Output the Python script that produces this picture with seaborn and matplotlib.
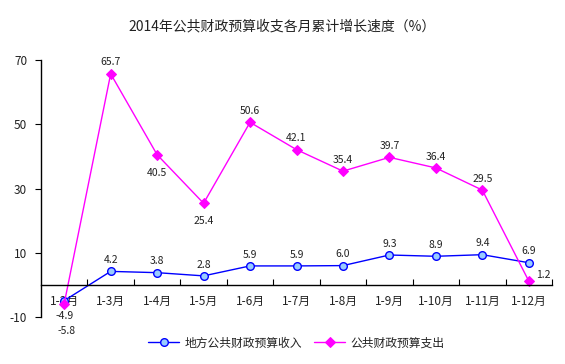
import pandas as pd
import matplotlib.pyplot as plt
import matplotlib.ticker as mtick
import seaborn as sns

months = ['1-2月', '1-3月', '1-4月', '1-5月', '1-6月', '1-7月', '1-8月', '1-9月', '1-10月', '1-11月', '1-12月']
shouru = [-4.9, 4.2, 3.8, 2.8, 5.9, 5.9, 6.0, 9.3, 8.9, 9.4, 6.9]
zhichu = [-5.8, 65.7, 40.5, 25.4, 50.6, 42.1, 35.4, 39.7, 36.4, 29.5, 1.2]
nome_shouru = '地方公共财政预算收入'
nome_zhichu = '公共财政预算支出'
titulo = '2014年公共财政预算收支各月累计增长速度（%）'

sns.set_theme(style='white')
plt.rcParams['font.family'] = ['Noto Sans CJK SC', 'DejaVu Sans']
plt.rcParams['axes.unicode_minus'] = False

df = pd.DataFrame({'mes': months, nome_shouru: shouru, nome_zhichu: zhichu})
pos = list(range(len(months)))

fig = plt.figure(figsize=(5.65, 3.64), dpi=100)
ax = fig.add_axes([41 / 565, 1 - 317 / 364, 511 / 565, 257 / 364])

sns.lineplot(x=pos, y=df[nome_shouru], ax=ax, color='#0000FF', linewidth=1.0, marker='o',
             markersize=5.5, markerfacecolor='#99CCFF', markeredgecolor='#0000FF',
             markeredgewidth=1.0, label=nome_shouru)
sns.lineplot(x=pos, y=df[nome_zhichu], ax=ax, color='#FF00FF', linewidth=1.0, marker='D',
             markersize=5, markerfacecolor='#FF00FF', markeredgecolor='#FF00FF',
             label=nome_zhichu)

ax.set_xlim(-0.5, len(months) - 0.5)
ax.set_ylim(-10, 70)
ax.set_yticks([-10, 10, 30, 50, 70])
ax.set_xticks(pos)
ax.set_xticklabels(months)
ax.xaxis.set_minor_locator(mtick.FixedLocator([p + 0.5 for p in pos]))
ax.tick_params(axis='x', which='major', length=0, pad=7, labelsize=8.5, colors='#222222')
ax.tick_params(axis='x', which='minor', length=4, direction='in', width=0.8, color='black', bottom=True)
ax.tick_params(axis='y', length=4, direction='out', width=0.8, labelsize=8.5, color='black', labelcolor='#222222', left=True, pad=6)
ax.set_xlabel('')
ax.set_ylabel('')

ax.spines['bottom'].set_position(('data', 0))
ax.spines['top'].set_visible(False)
ax.spines['right'].set_visible(False)
for s in ['left', 'bottom']:
    ax.spines[s].set_color('black')
    ax.spines[s].set_linewidth(1.0)

# rotulos dos valores
fs = 7.5
for i, v in enumerate(shouru):
    if i == 0:
        ax.annotate(f'{v}', (i, v), xytext=(0, -13), textcoords='offset points', ha='center', fontsize=fs, color='#222222')
    else:
        ax.annotate(f'{v}', (i, v), xytext=(0, 6), textcoords='offset points', ha='center', fontsize=fs, color='#222222')
for i, v in enumerate(zhichu):
    if i == 0:
        ax.annotate(f'{v}', (i, v), xytext=(2, -22), textcoords='offset points', ha='center', fontsize=fs, color='#222222')
    elif i in (2, 3):
        ax.annotate(f'{v}', (i, v), xytext=(0, -15), textcoords='offset points', ha='center', fontsize=fs, color='#222222')
    elif i == len(zhichu) - 1:
        ax.annotate(f'{v}', (i, v), xytext=(5, 2), textcoords='offset points', ha='left', fontsize=fs, color='#222222')
    else:
        ax.annotate(f'{v}', (i, v), xytext=(0, 6), textcoords='offset points', ha='center', fontsize=fs, color='#222222')

fig.suptitle(titulo, y=1 - 19 / 364, fontsize=10, color='#222222')
ax.legend(loc='upper center', bbox_to_anchor=(0.5, -0.035), ncol=2, frameon=False, fontsize=8.5,
          handlelength=2.6, columnspacing=1.0, handletextpad=0.5, labelcolor='#222222')

fig.savefig('out.png', dpi=100, facecolor='white')
